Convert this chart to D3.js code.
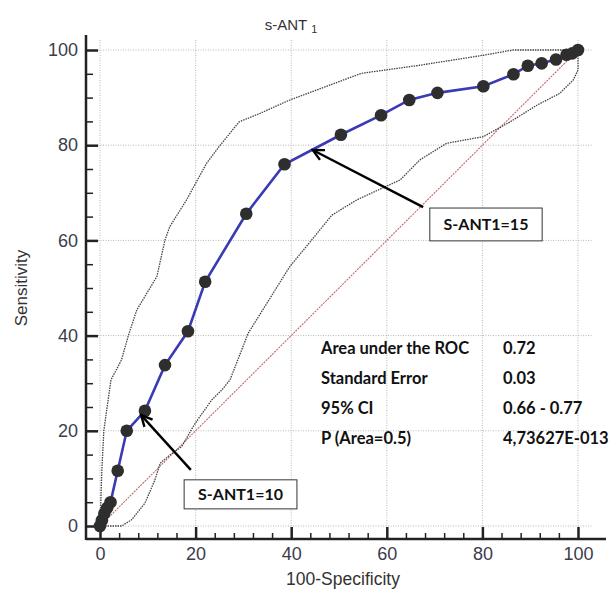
<!DOCTYPE html>
<meta charset="utf-8">
<style>
  body { margin: 0; background: #fff; }
  text { font-family: "Liberation Sans", Arial, sans-serif; }
  .tick text { fill: #3c3c4c; font-size: 18px; }
  .stat { font-family: Lato, "Open Sans", sans-serif; font-weight: bold; font-size: 16.5px; fill: #111; }
  .grid line { stroke: #b8b8b8; stroke-dasharray: 1,1.5; }
</style>
<body>
<script src="https://d3js.org/d3.v7.min.js"></script>
<script>

var width = 613,
    height = 591;

// ROC curve (100-specificity, sensitivity)
var rocPoints = [
  [0, 0], [0.4, 1.2], [0.9, 2.6], [1.5, 3.8], [2.2, 5], [3.7, 11.6],
  [5.6, 20], [9.4, 24.2], [13.6, 33.8], [18.4, 40.9], [22, 51.3],
  [30.6, 65.6], [38.6, 76], [50.4, 82.2], [58.8, 86.3], [64.7, 89.5],
  [70.6, 91], [80.2, 92.4], [86.5, 94.9], [89.5, 96.7], [92.4, 97.2],
  [95.4, 98], [97.6, 99], [98.8, 99.3], [100, 100]
];

// 95% confidence bounds
var upperCI = [
  [0, 0], [0.2, 6], [0.4, 12], [0.8, 20], [1.7, 26.5], [2.3, 30.7],
  [4.5, 34.9], [5.9, 39.9], [7.7, 45.4], [11.9, 52.4], [13.6, 60.1],
  [14.6, 62.9], [18.1, 68.5], [22.3, 76.2], [25, 79.8], [29.1, 84.9],
  [33.5, 86.7], [39.7, 89.5], [54.7, 95.1], [66.9, 96.8], [80.2, 98.9],
  [86.4, 100], [100, 100]
];
var lowerCI = [
  [0, 0], [4.5, 0], [6.6, 1.3], [9.4, 4.8], [11.5, 9.7], [12.6, 13.2],
  [14.6, 14.9], [17.1, 16.7], [19.5, 20.9], [20.9, 23], [23.4, 26.5],
  [25.5, 28.6], [27.2, 30.7], [31, 40.5], [39.7, 54.5], [44.3, 60.1],
  [48.5, 65.3], [53.7, 68.5], [58, 70.5], [62.8, 72.7], [66.9, 76.9],
  [72.5, 80.4], [80.2, 81.8], [85.8, 84.9], [91.4, 88.4], [96.2, 90.9],
  [99, 93.7], [100, 95.8], [100, 100]
];

var majorTicks = [0, 20, 40, 60, 80, 100];
var xMinorTicks = d3.range(0, 101, 4).filter(function(d) { return d % 20 !== 0; });
var yMinorTicks = d3.range(0, 101, 5).filter(function(d) { return d % 20 !== 0; });

var statNames = ["Area under the ROC", "Standard Error", "95% CI", "P (Area=0.5)"];
var statValues = ["0.72", "0.03", "0.66 - 0.77", "4,73627E-013"];

// callouts: label, box corner (x0,y0)-(x1,y1), arrow from -> to, in data units
var callouts = [
  { label: "S-ANT1=15", box: [69.0, 66.8, 92.5, 59.9], from: [67.6, 67.0], to: [44.5, 79.0] },
  { label: "S-ANT1=10", box: [17.6, 9.7, 41.2, 3.6], from: [19.0, 11.8], to: [8.6, 23.3] }
];

var x = d3.scaleLinear().domain([0, 100]).range([100, 578]);
var y = d3.scaleLinear().domain([0, 100]).range([526, 50]);

var svg = d3.select("body").append("svg")
    .attr("width", width)
    .attr("height", height);

svg.append("defs").append("marker")
    .attr("id", "head")
    .attr("markerUnits", "userSpaceOnUse")
    .attr("viewBox", "-14 -8 16 16")
    .attr("markerWidth", 16)
    .attr("markerHeight", 16)
    .attr("orient", "auto")
  .append("path")
    .attr("d", "M-11,-5.5L0,0L-11,5.5")
    .attr("fill", "none")
    .attr("stroke", "#000")
    .attr("stroke-width", 2.4);

// grid
var grid = svg.append("g").attr("class", "grid");
grid.selectAll(".gx").data(majorTicks).enter().append("line")
    .attr("x1", function(d) { return x(d); })
    .attr("x2", function(d) { return x(d); })
    .attr("y1", 40).attr("y2", 536);
grid.selectAll(".gy").data(majorTicks).enter().append("line")
    .attr("y1", function(d) { return y(d); })
    .attr("y2", function(d) { return y(d); })
    .attr("x1", 98).attr("x2", 592);

// axes
var axisX = 539, axisY = 86;

svg.append("g")
    .attr("transform", "translate(0," + axisX + ")")
    .call(d3.axisBottom(x).tickValues(xMinorTicks).tickSize(-6).tickFormat(""))
    .call(function(g) { g.select(".domain").remove(); g.selectAll("line").attr("stroke", "#222").attr("stroke-width", 1.5); });
svg.append("g")
    .attr("transform", "translate(0," + axisX + ")")
    .call(d3.axisBottom(x).tickValues(majorTicks).tickSize(-12).tickPadding(8))
    .call(function(g) { g.select(".domain").remove(); g.selectAll("line").attr("stroke", "#222").attr("stroke-width", 2.5); });

svg.append("g")
    .attr("transform", "translate(" + axisY + ",0)")
    .call(d3.axisLeft(y).tickValues(yMinorTicks).tickSize(-7).tickFormat(""))
    .call(function(g) { g.select(".domain").remove(); g.selectAll("line").attr("stroke", "#222").attr("stroke-width", 1.5); });
svg.append("g")
    .attr("transform", "translate(" + axisY + ",0)")
    .call(d3.axisLeft(y).tickValues(majorTicks).tickSize(-12).tickPadding(8))
    .call(function(g) { g.select(".domain").remove(); g.selectAll("line").attr("stroke", "#222").attr("stroke-width", 2.5); });

svg.append("line")
    .attr("x1", axisY).attr("x2", 606)
    .attr("y1", axisX).attr("y2", axisX)
    .attr("stroke", "#222").attr("stroke-width", 2.5);
svg.append("line")
    .attr("x1", axisY).attr("x2", axisY)
    .attr("y1", 35).attr("y2", axisX + 1)
    .attr("stroke", "#222").attr("stroke-width", 2.5);

// diagonal reference
svg.append("line")
    .attr("x1", x(0)).attr("y1", y(0))
    .attr("x2", x(100)).attr("y2", y(100))
    .attr("stroke", "#c06868")
    .attr("stroke-width", 1.1)
    .attr("stroke-dasharray", "2,1");

var line = d3.line()
    .x(function(d) { return x(d[0]); })
    .y(function(d) { return y(d[1]); });

// confidence bounds
[upperCI, lowerCI].forEach(function(ci) {
  svg.append("path")
      .datum(ci)
      .attr("d", line)
      .attr("fill", "none")
      .attr("stroke", "#444")
      .attr("stroke-width", 1.3)
      .attr("stroke-dasharray", "1.5,1");
});

// ROC curve
svg.append("path")
    .datum(rocPoints)
    .attr("d", line)
    .attr("fill", "none")
    .attr("stroke", "#3a3ab4")
    .attr("stroke-width", 2.6);

svg.selectAll(".pt")
    .data(rocPoints)
  .enter().append("circle")
    .attr("cx", function(d) { return x(d[0]); })
    .attr("cy", function(d) { return y(d[1]); })
    .attr("r", 6.3)
    .attr("fill", "#2e2e2e");

// callouts
callouts.forEach(function(c) {
  svg.append("line")
      .attr("x1", x(c.from[0])).attr("y1", y(c.from[1]))
      .attr("x2", x(c.to[0])).attr("y2", y(c.to[1]))
      .attr("stroke", "#000")
      .attr("stroke-width", 2.4)
      .attr("marker-end", "url(#head)");
  var bx = x(c.box[0]), by = y(c.box[1]), bw = x(c.box[2]) - bx, bh = y(c.box[3]) - by;
  svg.append("rect")
      .attr("x", bx).attr("y", by)
      .attr("width", bw).attr("height", bh)
      .attr("fill", "#fff")
      .attr("stroke", "#333")
      .attr("stroke-width", 1);
  svg.append("text")
      .attr("class", "stat")
      .attr("x", bx + bw / 2)
      .attr("y", by + bh / 2)
      .attr("dy", "0.36em")
      .attr("text-anchor", "middle")
      .style("font-size", "16px")
      .text(c.label);
});

// statistics
statNames.forEach(function(s, i) {
  svg.append("text").attr("class", "stat")
      .attr("x", 321).attr("y", 354 + i * 30)
      .text(s);
  svg.append("text").attr("class", "stat")
      .attr("x", 503).attr("y", 354 + i * 30)
      .text(statValues[i]);
});

// titles
var title = svg.append("text")
    .attr("x", 291).attr("y", 30)
    .attr("text-anchor", "middle")
    .attr("fill", "#333")
    .style("font-size", "15px");
title.append("tspan").text("s-ANT ");
title.append("tspan").attr("dy", 3).style("font-size", "11px").text("1");

svg.append("text")
    .attr("transform", "translate(27,288)rotate(-90)")
    .attr("text-anchor", "middle")
    .attr("fill", "#333")
    .style("font-size", "17px")
    .text("Sensitivity");

svg.append("text")
    .attr("x", 343).attr("y", 585)
    .attr("text-anchor", "middle")
    .attr("fill", "#333")
    .style("font-size", "17.5px")
    .text("100-Specificity");

</script>
</body>
